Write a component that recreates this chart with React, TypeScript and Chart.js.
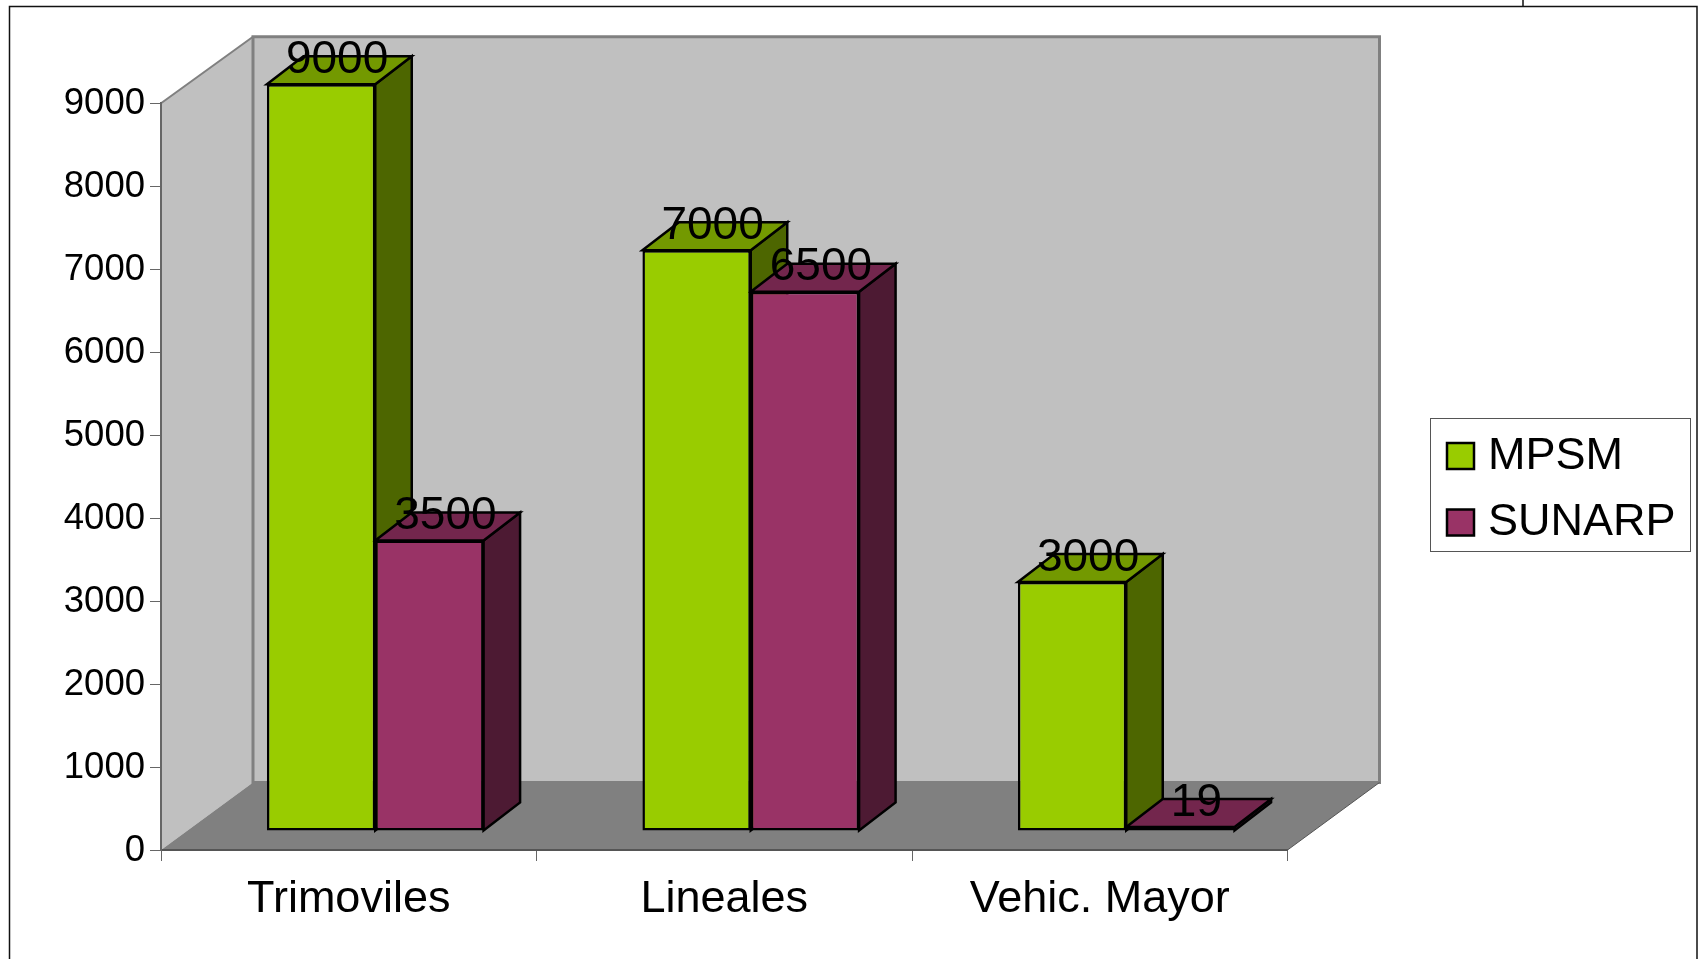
import React, { useEffect, useRef } from "react";
import { Chart, registerables } from "chart.js";

Chart.register(...registerables);

const categories = ["Trimoviles", "Lineales", "Vehic. Mayor"];
const mpsm = [9000, 7000, 3000];
const sunarp = [3500, 6500, 19];
const seriesNames = ["MPSM", "SUNARP"];
const yMax = 9000;

const FONT = '"Liberation Sans", Arial, sans-serif';
const W = 1708;
const H = 959;

const fronts = ["#99CC00", "#993366"];
const sides = ["#4D6600", "#4D1A33"];
const tops = ["#739900", "#73264D"];

function poly(ctx: CanvasRenderingContext2D, pts: number[][], fill: string | null, stroke?: string, lw?: number) {
  ctx.beginPath();
  pts.forEach((p, i) => (i ? ctx.lineTo(p[0], p[1]) : ctx.moveTo(p[0], p[1])));
  ctx.closePath();
  if (fill) {
    ctx.fillStyle = fill;
    ctx.fill();
  }
  if (stroke) {
    ctx.strokeStyle = stroke;
    ctx.lineWidth = lw || 1;
    ctx.lineJoin = "miter";
    ctx.stroke();
  }
}

const scene = {
  id: "scene",
  beforeDraw(chart: any) {
    const { ctx, chartArea: a } = chart;
    const dx = 92;
    const dy = 67.5;
    ctx.save();
    ctx.fillStyle = "#fff";
    ctx.fillRect(0, 0, W, H);
    // outer frame
    ctx.strokeStyle = "#111";
    ctx.lineWidth = 1.5;
    ctx.beginPath();
    ctx.moveTo(9.5, H + 5);
    ctx.lineTo(9.5, 6.5);
    ctx.lineTo(1697, 6.5);
    ctx.lineTo(1697, H + 5);
    ctx.moveTo(1523, 0);
    ctx.lineTo(1523, 6.5);
    ctx.stroke();
    // walls and floor
    const bx = a.left + dx;
    const by = a.bottom - dy;
    const ty = a.top - dy + 1;
    poly(ctx, [[a.left, a.top], [bx, ty], [bx, by], [a.left, a.bottom]], "#C0C0C0");
    poly(ctx, [[a.left, a.top], [bx, ty]], null, "#808080", 2);
    poly(ctx, [[bx, ty], [a.right + dx, ty], [a.right + dx, by], [bx, by]], "#C0C0C0", "#808080", 3);
    poly(ctx, [[a.left, a.bottom], [a.right, a.bottom], [bx + a.right - a.left, by], [bx, by]], "#808080");
    ctx.strokeStyle = "#555";
    ctx.lineWidth = 1;
    ctx.beginPath();
    ctx.moveTo(a.right, a.bottom);
    ctx.lineTo(a.right + dx, by);
    ctx.stroke();
    ctx.restore();
  },
  beforeDatasetsDraw(chart: any) {
    const { ctx } = chart;
    const depthX = 36.5;
    const depthY = 28;
    ctx.save();
    ctx.translate(26.5, -19);
    [0, 1].forEach((ds) => {
      chart.getDatasetMeta(ds).data.forEach((bar: any) => {
        const { x, y, base, width } = bar.getProps(["x", "y", "base", "width"], true);
        const l = x - width / 2;
        const r = x + width / 2;
        poly(ctx, [[r, y], [r + depthX, y - depthY], [r + depthX, base - depthY], [r, base]], sides[ds], "#000", 2.5);
        poly(ctx, [[l, y], [l + depthX, y - depthY], [r + depthX, y - depthY], [r, y]], tops[ds], "#000", 2.5);
      });
    });
  },
  afterDatasetsDraw(chart: any) {
    const { ctx } = chart;
    ctx.fillStyle = "#000";
    ctx.font = `46px ${FONT}`;
    ctx.textAlign = "center";
    ctx.textBaseline = "middle";
    [0, 1].forEach((ds) => {
      chart.getDatasetMeta(ds).data.forEach((bar: any, i: number) => {
        const { x, y } = bar.getProps(["x", "y"], true);
        ctx.fillText(String(chart.data.datasets[ds].data[i]), x + 16, y - 24);
      });
    });
    ctx.restore();
  },
  afterDraw(chart: any) {
    const { ctx } = chart;
    ctx.save();
    ctx.fillStyle = "#fff";
    ctx.strokeStyle = "#555";
    ctx.lineWidth = 1;
    ctx.fillRect(1430, 418, 260, 133);
    ctx.strokeRect(1430.5, 418.5, 260, 133);
    ctx.font = `45px ${FONT}`;
    ctx.textAlign = "left";
    ctx.textBaseline = "middle";
    chart.data.datasets.forEach((d: any, i: number) => {
      const top = 443 + i * 66.5;
      ctx.fillStyle = d.backgroundColor;
      ctx.strokeStyle = "#000";
      ctx.lineWidth = 2.5;
      ctx.fillRect(1447, top, 27, 26);
      ctx.strokeRect(1447, top, 27, 26);
      ctx.fillStyle = "#000";
      ctx.fillText(d.label, 1488, top + 13.5);
    });
    ctx.restore();
  },
};

export default function App() {
  const ref = useRef<HTMLCanvasElement>(null);
  useEffect(() => {
    const chart = new Chart(ref.current!, {
      type: "bar",
      data: {
        labels: categories,
        datasets: [
          { label: seriesNames[0], data: mpsm, backgroundColor: fronts[0], borderColor: "#000", borderWidth: 2.5, borderSkipped: false, clip: false, minBarLength: 4 },
          { label: seriesNames[1], data: sunarp, backgroundColor: fronts[1], borderColor: "#000", borderWidth: 2.5, borderSkipped: false, clip: false, minBarLength: 4 },
        ] as any,
      },
      options: {
        animation: false,
        responsive: false,
        devicePixelRatio: 1,
        layout: { autoPadding: false, padding: { left: 0, right: W - 1287.5, top: 103.3, bottom: 0 } },
        datasets: { bar: { categoryPercentage: 0.577, barPercentage: 1 } },
        plugins: { legend: { display: false }, title: { display: false }, tooltip: { enabled: false } },
        scales: {
          x: {
            grid: { drawOnChartArea: false, tickLength: 11, color: "#666" },
            border: { color: "#555", width: 2 },
            ticks: { color: "#000", font: { family: FONT, size: 45 }, padding: 12, maxRotation: 0 },
            afterFit(s: any) {
              s.height = H - 850;
            },
          },
          y: {
            min: 0,
            max: yMax,
            grid: { drawOnChartArea: false, tickLength: 11, color: "#666" },
            border: { color: "#666", width: 2 },
            ticks: { stepSize: 1000, color: "#000", font: { family: FONT, size: 36.5 }, padding: 5, labelOffset: 1, callback: (v: any) => String(v) },
            afterFit(s: any) {
              s.width = 161;
            },
          },
        },
      } as any,
      plugins: [scene as any],
    });
    return () => chart.destroy();
  }, []);
  return (
    <canvas
      ref={ref}
      width={W}
      height={H}
      style={{ position: "absolute", left: 0, top: 0, width: W, height: H, display: "block" }}
    />
  );
}
